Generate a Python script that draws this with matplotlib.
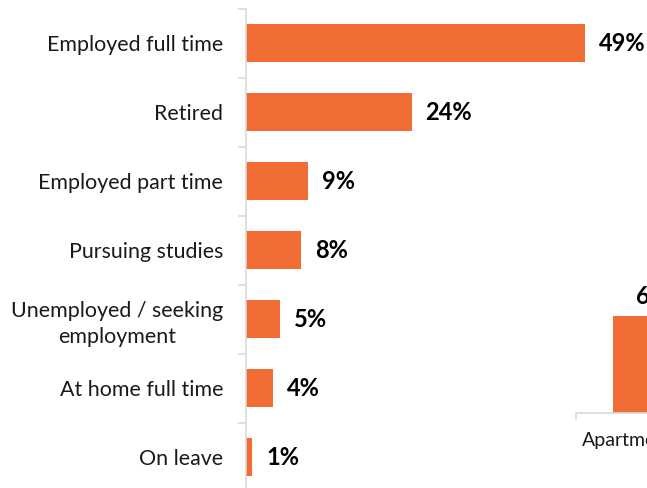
# occupation chart, orange horizontal bars
import matplotlib.pyplot as plt

categorias = ['Employed full time', 'Retired', 'Employed part time',
              'Pursuing studies', 'Unemployed / seeking\nemployment',
              'At home full time', 'On leave']
valores = [49, 24, 9, 8, 5, 4, 1]

# second chart, only partly visible at the right edge
cat2 = ['Apartment/condo']
val2 = [64]

laranja = '#F26D35'
cinza = '#D9D9D9'
plt.rcParams['font.family'] = ['Lato', 'DejaVu Sans']

fig = plt.figure(figsize=(6.47, 4.88), dpi=100)
W, H = 647, 488

ax = fig.add_axes([245.5 / W, (H - 491.5) / H, 401.5 / W, 483 / H])
y = list(range(len(categorias)))
ax.barh(y, valores, height=0.55, color=laranja)
ax.set_ylim(len(categorias) - 0.5, -0.5)
ax.set_xlim(0, 401.5 / 6.92)
for yi, v in zip(y, valores):
    ax.annotate(f'{v}%', (v, yi), xytext=(10, 0), textcoords='offset points',
                va='center', ha='left', fontsize=17, fontweight='bold',
                color='black')
ax.set_yticks(y)
ax.set_yticklabels(categorias, fontsize=15.4, color='#1a1a1a')
for lb in ax.get_yticklabels():
    lb.set_multialignment('center')
    lb.set_linespacing(1.4)
ax.tick_params(axis='y', which='major', length=0, pad=16)
ax.set_yticks([i - 0.5 for i in range(len(categorias) + 1)], minor=True)
ax.tick_params(axis='y', which='minor', length=6, color=cinza, width=1.2)
ax.set_xticks([])
for s in ['top', 'right', 'bottom']:
    ax.spines[s].set_visible(False)
ax.spines['left'].set_color(cinza)
ax.spines['left'].set_linewidth(1.2)

# partial chart bottom right
ax2 = fig.add_axes([576 / W, (H - 413) / H, 166 / W, 151.6 / H])
ax2.bar(range(len(cat2)), val2, width=0.55, color=laranja)
ax2.set_xlim(-0.5, len(cat2) - 0.5)
ax2.set_ylim(0, 100)
for xi, v in enumerate(val2):
    ax2.annotate(f'{v}%', (xi, v), xytext=(0, 6), textcoords='offset points',
                 ha='center', va='bottom', fontsize=17, fontweight='bold')
ax2.set_xticks(range(len(cat2)))
ax2.set_xticklabels(cat2, fontsize=14, color='#1a1a1a')
ax2.tick_params(axis='x', which='major', length=0, pad=14)
ax2.set_xticks([-0.5, 0.5], minor=True)
ax2.tick_params(axis='x', which='minor', length=5, color=cinza, width=1.2)
ax2.set_yticks([])
for s in ['top', 'right', 'left']:
    ax2.spines[s].set_visible(False)
ax2.spines['bottom'].set_color(cinza)
ax2.spines['bottom'].set_linewidth(1.2)

fig.savefig('out.png', dpi=100)
